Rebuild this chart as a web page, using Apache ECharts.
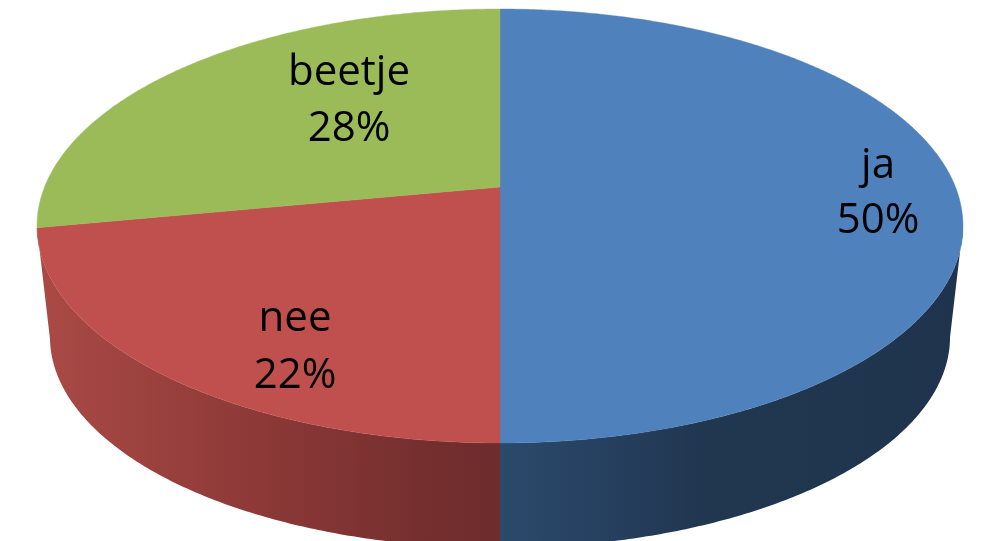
<!DOCTYPE html>
<html><head><meta charset="utf-8">
<style>html,body{margin:0;padding:0;background:#fff}#c{width:985px;height:541px}</style>
<script src="https://cdn.jsdelivr.net/npm/echarts@6/dist/echarts.min.js"></script>
</head><body><div id="c"></div>
<script>
// Data (clockwise from 12 o'clock)
const categories = ['ja', 'nee', 'beetje'];
const values = [50, 22, 28];

// Styling / layout
const topColors = ['#4f81bd', '#c0504d', '#9bbb59'];
const sideStops = [
  [[500,'#2b4a6b'],[600,'#264060'],[700,'#213750'],[963,'#1f334c']],
  [[37,'#aa4a46'],[260,'#8c3937'],[440,'#732e2e'],[500,'#6e2c2c']],
  null
];
const labelCenters = [[878,166,221],[295,319,376],[349,73,129]];
const FONT = '42px "Open Sans", sans-serif';

// Perspective projection of the pie's disc onto the page
const CX = 500, PC = 187, TOPY = 9, BOTY = 443, RX = 463;
const persp = (2 * PC - TOPY - BOTY) / (TOPY - BOTY);
const a = TOPY + TOPY * persp - PC;
const k = RX * Math.sqrt(1 - persp * persp);
const ELL_CY = (TOPY + BOTY) / 2;
const DEPTH = 111, SHRINK = 0.972;
function project(deg, lower) {
  const t = deg * Math.PI / 180, u = Math.sin(t), v = Math.cos(t);
  const den = 1 + persp * v;
  let x = CX + k * u / den, y = (a * v + PC) / den;
  if (lower) { x = CX + (x - CX) * SHRINK; y = ELL_CY + DEPTH + (y - ELL_CY) * SHRINK; }
  return [x, y];
}
function arc(from, to, lower) {
  const n = Math.max(2, Math.ceil(Math.abs(to - from) * 2)), pts = [];
  for (let i = 0; i <= n; i++) pts.push(project(from + (to - from) * i / n, lower));
  return pts;
}
const total = values.reduce((s, x) => s + x, 0);
const FRONT = [90 + Math.asin(persp) * 180 / Math.PI, 270 - Math.asin(persp) * 180 / Math.PI];

const chart = echarts.init(document.getElementById('c'), null, {renderer:'canvas'});
chart.setOption({
  animation: false,
  series: [{
    type: 'custom',
    coordinateSystem: 'none',
    silent: true,
    data: values.map((v, i) => ({ name: categories[i], value: v })),
    renderItem(params, api) {
      const i = params.dataIndex, val = api.value(0);
      const before = values.slice(0, i).reduce((s, x) => s + x, 0);
      const start = before / total * 360, end = (before + val) / total * 360;
      const children = [];
      const fs = Math.max(start, FRONT[0]), fe = Math.min(end, FRONT[1]);
      if (fe > fs && sideStops[i]) {
        const st = sideStops[i], x0 = st[0][0], x1 = st[st.length - 1][0];
        const grad = new echarts.graphic.LinearGradient(x0, 0, x1, 0,
          st.map(s => ({ offset: (s[0] - x0) / (x1 - x0), color: s[1] })), true);
        children.push({
          type: 'polygon', z2: 1,
          shape: { points: arc(fs, fe, false).concat(arc(fe, fs, true)) },
          style: { fill: grad }
        });
      }
      children.push({
        type: 'polygon', z2: 2,
        shape: { points: [[CX, PC]].concat(arc(start, end, false)) },
        style: { fill: topColors[i], stroke: topColors[i], lineWidth: 0.4 }
      });
      const lc = labelCenters[i];
      const pct = Math.round(val / total * 100) + '%';
      [[categories[i], lc[1]], [pct, lc[2]]].forEach(p => children.push({
        type: 'text', z2: 3,
        style: { text: p[0], x: lc[0], y: p[1], fill: '#000', font: FONT, align: 'center', verticalAlign: 'middle' }
      }));
      return { type: 'group', children };
    }
  }]
});
</script></body></html>
